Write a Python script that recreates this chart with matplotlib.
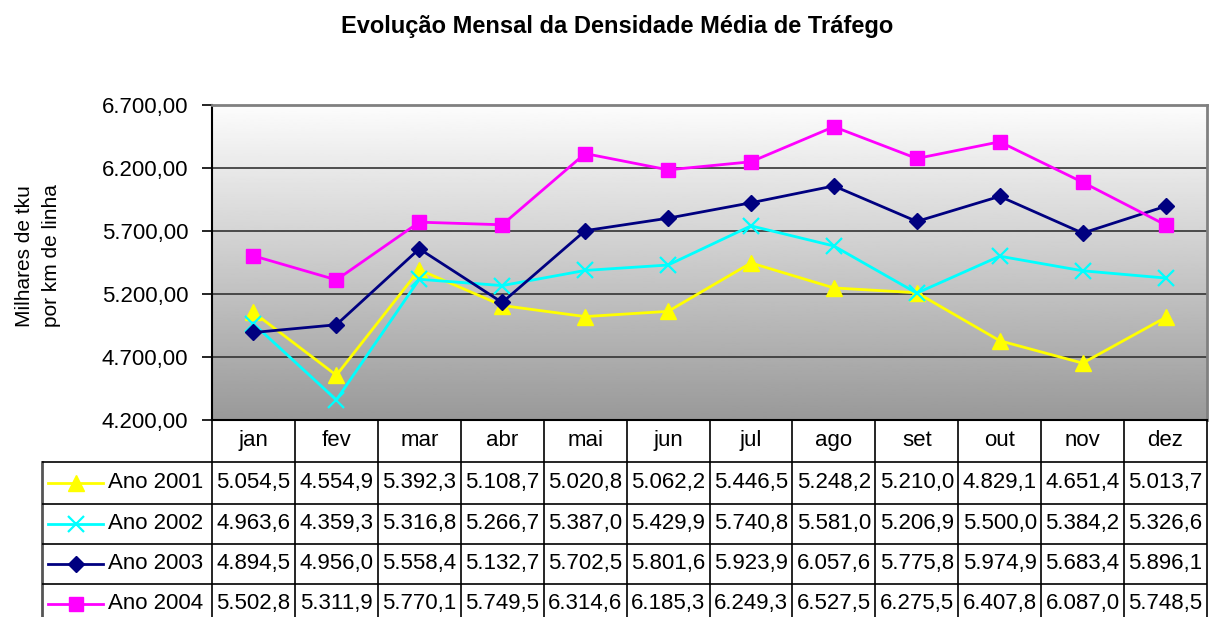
import numpy as np
import matplotlib
matplotlib.use("Agg")
import matplotlib.pyplot as plt

plt.rcParams['font.family'] = ['Liberation Sans', 'DejaVu Sans']

months = ["jan", "fev", "mar", "abr", "mai", "jun", "jul", "ago", "set", "out", "nov", "dez"]
series_names = ["Ano 2001", "Ano 2002", "Ano 2003", "Ano 2004"]
ano2001 = [5054.5, 4554.9, 5392.3, 5108.7, 5020.8, 5062.2, 5446.5, 5248.2, 5210.0, 4829.1, 4651.4, 5013.7]
ano2002 = [4963.6, 4359.3, 5316.8, 5266.7, 5387.0, 5429.9, 5740.8, 5581.0, 5206.9, 5500.0, 5384.2, 5326.6]
ano2003 = [4894.5, 4956.0, 5558.4, 5132.7, 5702.5, 5801.6, 5923.9, 6057.6, 5775.8, 5974.9, 5683.4, 5896.1]
ano2004 = [5502.8, 5311.9, 5770.1, 5749.5, 6314.6, 6185.3, 6249.3, 6527.5, 6275.5, 6407.8, 6087.0, 5748.5]
series = [ano2001, ano2002, ano2003, ano2004]
yticks = [4200, 4700, 5200, 5700, 6200, 6700]

colors = ["#FFFF00", "#00FFFF", "#000080", "#FF00FF"]
markers = ["^", "x", "D", "s"]
msizes = [11, 12, 8, 10]
mews = [1, 1.6, 1, 1]

FS = 16

W_PX, H_PX = 1211, 617
fig = plt.figure(figsize=(W_PX / 100, H_PX / 100), dpi=100)

def fx(px):
    return px / W_PX

def fy(py):
    return 1 - py / H_PX

L, R, T, B = 212, 1207, 105, 420
ax = fig.add_axes([fx(L), fy(B), fx(R - L), (B - T) / H_PX])
x = np.arange(len(months))
ax.set_xlim(-0.5, len(months) - 0.5)
ax.set_ylim(yticks[0], yticks[-1])

# gradient background
grad = np.linspace(0.6, 0.99, 256).reshape(-1, 1)
ax.imshow(grad, cmap="gray", vmin=0, vmax=1, aspect="auto", origin="lower",
          extent=(-0.5, len(months) - 0.5, yticks[0], yticks[-1]), zorder=0)

for yt in yticks[1:-1]:
    ax.axhline(yt, color="#333333", lw=1.2, zorder=1)

for vals, c, m, ms, mew, name in zip(series, colors, markers, msizes, mews, series_names):
    ax.plot(x, vals, color=c, lw=2, marker=m, ms=ms, mfc=c, mec=c, mew=mew,
            zorder=3, clip_on=False, label=name)

def fmt(v, dec):
    s = f"{v:,.{dec}f}"
    return s.replace(",", "X").replace(".", ",").replace("X", ".")

ax.set_yticks(yticks)
ax.set_yticklabels([fmt(v, 2) for v in yticks], fontsize=FS)
ax.tick_params(axis="y", direction="out", length=7, width=1.2, pad=10, color="black")
ax.set_xticks([])
for s in ["top", "right"]:
    ax.spines[s].set_color("#808080")
    ax.spines[s].set_linewidth(2)
ax.spines["left"].set_color("black")
ax.spines["left"].set_linewidth(1.5)
ax.spines["bottom"].set_color("black")
ax.spines["bottom"].set_linewidth(1.5)

fig.text(fx(38), fy(256), "Milhares de tku\npor km de linha", rotation=90,
         ha="center", va="center", fontsize=15, linespacing=1.55)

fig.suptitle("Evolução Mensal da Densidade Média de Tráfego", x=fx(617), y=fy(27),
             fontsize=17, fontweight="bold", va="center")

# table
TB = 625
tax = fig.add_axes([fx(42), 0, fx(R - 42), (H_PX - B) / H_PX])
colw = (R - L) / len(months)
leftx = -0.5 - (L - 42) / colw
tax.set_xlim(leftx, len(months) - 0.5)
tax.set_ylim(H_PX, B)
tax.axis("off")
row_edges = [420, 462, 504, 544, 584, TB]
lc = "black"
lw = 1.2
for i in range(len(months) + 1):
    tax.plot([i - 0.5, i - 0.5], [B, TB], color=lc, lw=lw, clip_on=False)
tax.plot([leftx, leftx], [row_edges[1], TB], color="#555555", lw=2, clip_on=False)
for ye in row_edges[1:-1]:
    tax.plot([leftx, len(months) - 0.5], [ye, ye], color=lc, lw=lw)
for i, mname in enumerate(months):
    tax.text(i, (row_edges[0] + row_edges[1]) / 2, mname, ha="center", va="center", fontsize=FS)
for r, (vals, c, m, ms, mew, name) in enumerate(zip(series, colors, markers, msizes, mews, series_names)):
    yc = (row_edges[r + 1] + row_edges[r + 2]) / 2
    if r == 3:
        yc = 604
    x0 = leftx + 6 / colw
    x1 = leftx + 61 / colw
    tax.plot([x0, x1], [yc, yc], color=c, lw=2, clip_on=False)
    tax.plot([(x0 + x1) / 2], [yc], marker=m, ms=ms, color=c, mfc=c, mec=c, mew=mew, clip_on=False)
    tax.text(leftx + 66 / colw, yc, name, ha="left", va="center", fontsize=FS)
    for i, v in enumerate(vals):
        tax.text(i, yc, fmt(v, 1), ha="center", va="center", fontsize=FS)

fig.savefig("out.png", dpi=100)
